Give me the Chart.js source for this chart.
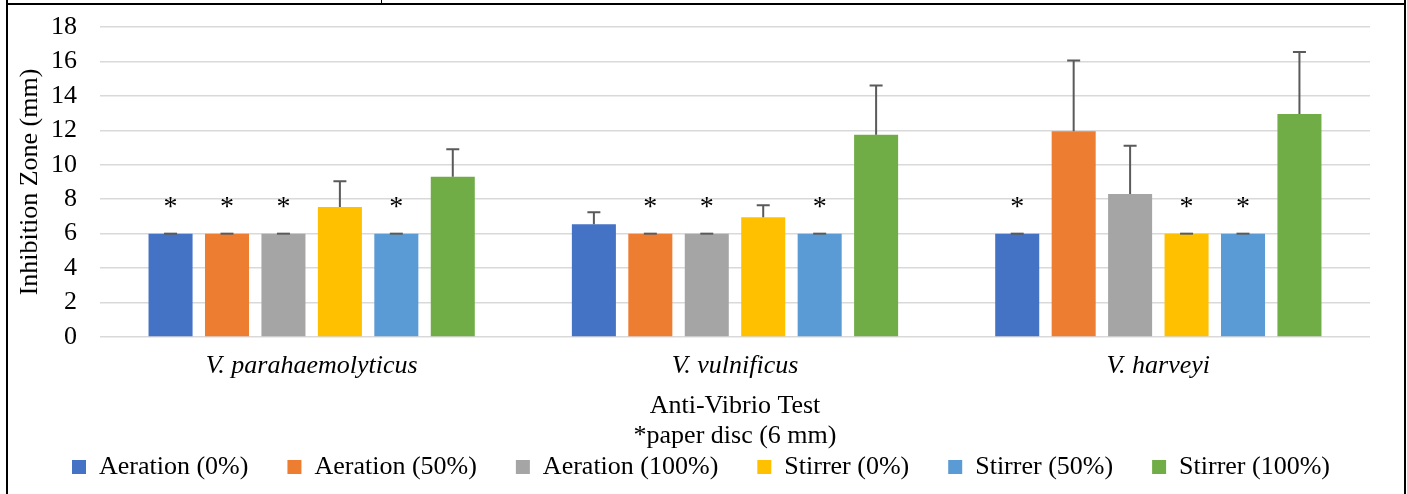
<!DOCTYPE html>
<html>
<head>
<meta charset="utf-8">
<title>Anti-Vibrio Test</title>
<script src="https://cdn.jsdelivr.net/npm/chart.js@4.4.1/dist/chart.umd.min.js"></script>
<style>
  html, body { margin: 0; padding: 0; background: #fff; }
  body { width: 1407px; height: 494px; position: relative; overflow: hidden; }
  #frame { position: absolute; left: 6px; top: -10px; width: 1396px; height: 520px;
           border-left: 2px solid #000; border-right: 2px solid #000; }
  #hline { position: absolute; left: 6px; top: 3px; width: 1400px; height: 2px; background: #000; }
  #vtick { position: absolute; left: 381px; top: 0; width: 1px; height: 4px; background: #000; }
  #wrap { position: absolute; left: 0; top: 0; width: 1407px; height: 494px; }
</style>
</head>
<body>
<div id="frame"></div>
<div id="hline"></div>
<div id="vtick"></div>
<div id="wrap"><canvas id="chart"></canvas></div>
<script>
const categories = ["V. parahaemolyticus", "V. vulnificus", "V. harveyi"];
const seriesNames = ["Aeration (0%)", "Aeration (50%)", "Aeration (100%)", "Stirrer (0%)", "Stirrer (50%)", "Stirrer (100%)"];
const seriesColors = ["#4472C4", "#ED7D31", "#A5A5A5", "#FFC000", "#5B9BD5", "#70AD47"];

// mean inhibition zone (mm) and its error, one value per category
const aeration0 = [6, 6.55, 6];
const aeration0Err = [0, 0.7, 0];
const aeration50 = [6, 6, 11.95];
const aeration50Err = [0, 0, 4.1];
const aeration100 = [6, 6, 8.3];
const aeration100Err = [0, 0, 2.8];
const stirrer0 = [7.55, 6.95, 6];
const stirrer0Err = [1.5, 0.7, 0];
const stirrer50 = [6, 6, 6];
const stirrer50Err = [0, 0, 0];
const stirrer100 = [9.3, 11.75, 12.95];
const stirrer100Err = [1.6, 2.85, 3.6];

const yTicks = [0, 2, 4, 6, 8, 10, 12, 14, 16, 18];

const SERIF = '"Liberation Serif", "Times New Roman", serif';
Chart.defaults.font.family = SERIF;
Chart.defaults.color = "#000";

const values = [aeration0, aeration50, aeration100, stirrer0, stirrer50, stirrer100];
const errors = [aeration0Err, aeration50Err, aeration100Err, stirrer0Err, stirrer50Err, stirrer100Err];

// error bars + "*" over the bars that stay at the paper disc size
const errorBars = {
  id: "errorBars",
  afterDatasetsDraw(chart) {
    const ctx = chart.ctx;
    const y = chart.scales.y;
    chart.data.datasets.forEach((ds, i) => {
      const meta = chart.getDatasetMeta(i);
      meta.data.forEach((bar, j) => {
        const top = y.getPixelForValue(ds.data[j] + ds.errors[j]);
        ctx.save();
        ctx.strokeStyle = "#5a5a5a";
        ctx.lineWidth = 2;
        ctx.beginPath();
        ctx.moveTo(bar.x, bar.y);
        ctx.lineTo(bar.x, top);
        ctx.moveTo(bar.x - 6.5, top);
        ctx.lineTo(bar.x + 6.5, top);
        ctx.stroke();
        if (ds.errors[j] === 0) {
          ctx.fillStyle = "#000";
          ctx.font = "28px " + SERIF;
          ctx.textAlign = "center";
          ctx.textBaseline = "alphabetic";
          ctx.fillText("*", bar.x, bar.y - 19);
        }
        ctx.restore();
      });
    });
  }
};

new Chart(document.getElementById("chart"), {
  type: "bar",
  data: {
    labels: categories,
    datasets: seriesNames.map((name, i) => ({
      label: name,
      data: values[i],
      errors: errors[i],
      backgroundColor: seriesColors[i],
      borderWidth: 0,
      categoryPercentage: 0.8,
      barPercentage: 0.78
    }))
  },
  options: {
    responsive: true,
    maintainAspectRatio: false,
    animation: false,
    layout: { padding: { left: 32, right: 37, top: 27, bottom: 4 } },
    plugins: {
      tooltip: { enabled: false },
      legend: {
        position: "bottom",
        labels: {
          boxWidth: 14,
          boxHeight: 14,
          padding: 39,
          color: "#000",
          font: { size: 26 }
        }
      }
    },
    scales: {
      x: {
        grid: { display: false, drawTicks: false },
        border: { display: false },
        ticks: { color: "#000", padding: 14, font: { size: 26, style: "italic" } },
        title: {
          display: true,
          text: ["Anti-Vibrio Test", "*paper disc (6 mm)"],
          color: "#000",
          font: { size: 26, lineHeight: 1.15 },
          padding: { top: 0, bottom: -36 }
        },
        afterFit(scale) { scale.height = 78; }
      },
      y: {
        min: 0,
        max: 18,
        afterBuildTicks(scale) { scale.ticks = yTicks.map((v) => ({ value: v })); },
        // invisible tick marks give the gap between labels and plot
        grid: { color: "#d9d9d9", lineWidth: 1.5, drawTicks: true, tickLength: 23, tickColor: "rgba(0,0,0,0)" },
        border: { display: false },
        ticks: { color: "#000", padding: 0, autoSkip: false, font: { size: 26 } },
        title: {
          display: true,
          text: "Inhibition Zone (mm)",
          color: "#000",
          font: { size: 26 },
          padding: { top: -17, bottom: 0 }
        },
        afterFit(scale) { scale.width = 68; }
      }
    }
  },
  plugins: [errorBars]
});
</script>
</body>
</html>
